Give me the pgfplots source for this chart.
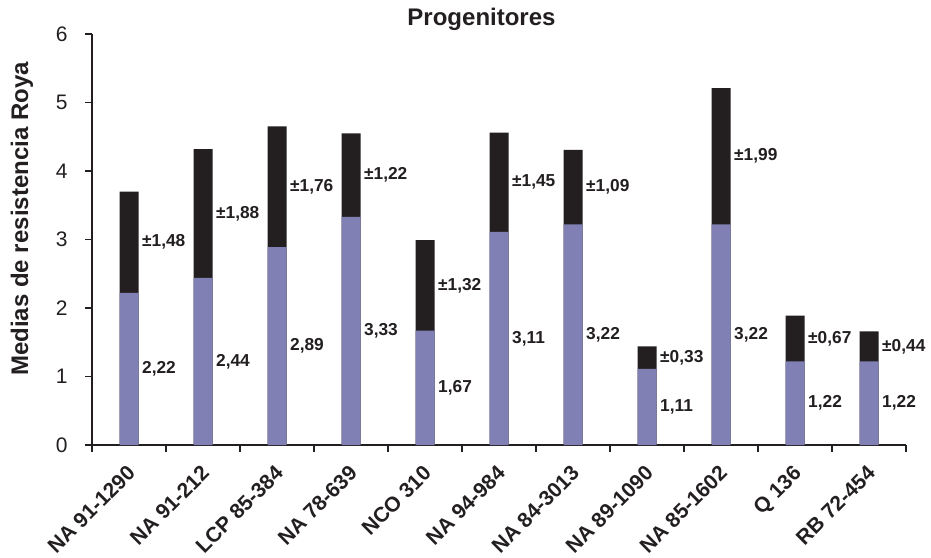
\documentclass[border=0pt]{standalone}
\usepackage{fontspec}
\setmainfont{Liberation Sans}
\usepackage{pgfplots}
\usepackage{pgfplotstable}
\pgfplotsset{compat=1.18}
\definecolor{barlow}{RGB}{128,128,180}
\definecolor{bartop}{RGB}{35,31,32}
\pgfplotstableread{
x mean sd ml sl
0 2.22 1.48 2,22 ±1,48
1 2.44 1.88 2,44 ±1,88
2 2.89 1.76 2,89 ±1,76
3 3.33 1.22 3,33 ±1,22
4 1.67 1.32 1,67 ±1,32
5 3.11 1.45 3,11 ±1,45
6 3.22 1.09 3,22 ±1,09
7 1.11 0.33 1,11 ±0,33
8 3.22 1.99 3,22 ±1,99
9 1.22 0.67 1,22 ±0,67
10 1.22 0.44 1,22 ±0,44
}\data
\begin{document}
\begin{tikzpicture}
\path[use as bounding box] (0,0) rectangle (931bp,558bp);
\begin{axis}[
  at={(92bp,113bp)}, anchor=south west, scale only axis,
  width=814bp, height=411bp,
  xmin=-0.5, xmax=10.5, ymin=0, ymax=6,
  axis x line*=bottom, axis y line*=left,
  axis line style={line width=1.2bp, color=bartop},
  tick align=outside,
  major tick length=7bp,
  tick style={line width=1.2bp, color=bartop},
  ytick={0,1,...,6},
  /pgf/number format/assume math mode=true,
  yticklabel style={font=\fontsize{21bp}{21bp}\selectfont, color=bartop, xshift=-14bp},
  xtick={-0.5,0.5,...,10.5}, xticklabels={},
  extra x ticks={0,1,...,10},
  extra x tick labels={NA 91-1290,NA 91-212,LCP 85-384,NA 78-639,NCO 310,NA 94-984,NA 84-3013,NA 89-1090,NA 85-1602,Q 136,RB 72-454},
  extra x tick style={major tick length=0pt, tick label style={xshift=-3bp, yshift=-19bp, rotate=45, anchor=north east, inner sep=0pt, font=\bfseries\fontsize{21bp}{21bp}\selectfont, color=bartop}},
  ylabel={Medias de resistencia Roya},
  ylabel style={at={(rel axis cs:-0.086,0.55)}, anchor=center, font=\bfseries\fontsize{24bp}{24bp}\selectfont, color=bartop},
  title={Progenitores},
  title style={at={(rel axis cs:0.4785,1.005)}, anchor=base, yshift=0pt, font=\bfseries\fontsize{24bp}{24bp}\selectfont, color=bartop},
  clip=false,
]
\addplot[ybar, bar width=19bp, bar shift=0pt, fill=bartop, draw=none] table[x=x, y expr=\thisrow{mean}+\thisrow{sd}] {\data};
\addplot[ybar, bar width=19bp, bar shift=0pt, fill=barlow, draw=none] table[x=x, y=mean] {\data};
\addplot[only marks, mark=*, mark size=0pt, mark options={draw=none, fill=none},
  nodes near coords, point meta=explicit symbolic,
  nodes near coords style={anchor=west, inner sep=0pt, xshift=13bp, color=bartop, font=\bfseries\fontsize{17.3bp}{17.3bp}\selectfont}]
  table[x=x, y expr=\thisrow{mean}/2, meta=ml] {\data};
\addplot[only marks, mark=*, mark size=0pt, mark options={draw=none, fill=none},
  nodes near coords, point meta=explicit symbolic,
  nodes near coords style={anchor=west, inner sep=0pt, xshift=13bp, color=bartop, font=\bfseries\fontsize{17.3bp}{17.3bp}\selectfont}]
  table[x=x, y expr=\thisrow{mean}+\thisrow{sd}/2, meta=sl] {\data};
\end{axis}
\end{tikzpicture}
\end{document}
